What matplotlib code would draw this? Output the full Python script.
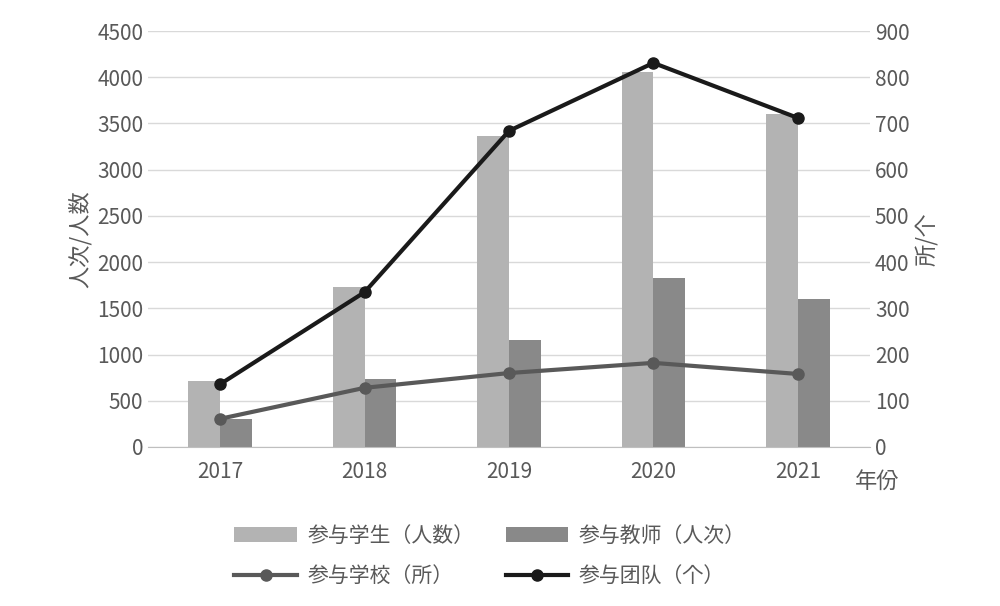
import matplotlib
matplotlib.use("Agg")
import matplotlib.pyplot as plt
from matplotlib import font_manager
import numpy as np

names = sorted({f.name for f in font_manager.fontManager.ttflist if "CJK" in f.name})
pref = [n for n in names if "SC" in n] + names
plt.rcParams["font.family"] = "sans-serif"
plt.rcParams["font.sans-serif"] = pref + ["Noto Sans CJK SC", "DejaVu Sans"]

years = ["2017", "2018", "2019", "2020", "2021"]
students = [715, 1730, 3365, 4055, 3600]
teachers = [305, 735, 1160, 1830, 1600]
schools = [61, 128, 160, 182, 158]
teams = [136, 335, 684, 831, 712]

fig = plt.figure(figsize=(10, 6.06), dpi=100)
ax = fig.add_axes([0.148, 0.2624, 0.722, 0.6864])
ax2 = ax.twinx()
x = np.arange(len(years))
w = 0.22
b1 = ax.bar(x - w/2, students, w, color="#b3b3b3", zorder=2)
b2 = ax.bar(x + w/2, teachers, w, color="#898989", zorder=2)
l1, = ax2.plot(x, schools, color="#595959", lw=3, marker="o", ms=8)
l2, = ax2.plot(x, teams, color="#1a1a1a", lw=3, marker="o", ms=8)

ax.set_xlim(-0.5, 4.5)
ax.set_ylim(0, 4500)
ax.set_yticks(range(0, 4501, 500))
ax2.set_ylim(0, 900)
ax2.set_yticks(range(0, 901, 100))
ax.set_xticks(x)
ax.set_xticklabels(years)
ax.grid(axis="y", color="#d9d9d9", lw=1, zorder=0)
for a in (ax, ax2):
    for s in ["top", "left", "right"]:
        a.spines[s].set_visible(False)
    a.tick_params(length=0, labelsize=15, colors="#595959")
ax2.spines["bottom"].set_visible(False)
ax.spines["bottom"].set_color("#bfbfbf")
ax.tick_params(axis="x", pad=10)
ax.set_ylabel("人次/人数", fontsize=16, color="#595959")
ax2.set_ylabel("所/个", fontsize=16, color="#595959")
fig.text(0.855, 0.205, "年份", fontsize=16, color="#595959", va="center")
fig.legend([b1, l1, b2, l2], ["参与学生（人数）", "参与学校（所）", "参与教师（人次）", "参与团队（个）"],
           loc="lower center", bbox_to_anchor=(0.49, 0.0), ncol=2, frameon=False,
           fontsize=15, labelcolor="#595959", handlelength=3, columnspacing=1.5,
           handletextpad=0.5, labelspacing=0.9)
fig.savefig("out.png", dpi=100)
